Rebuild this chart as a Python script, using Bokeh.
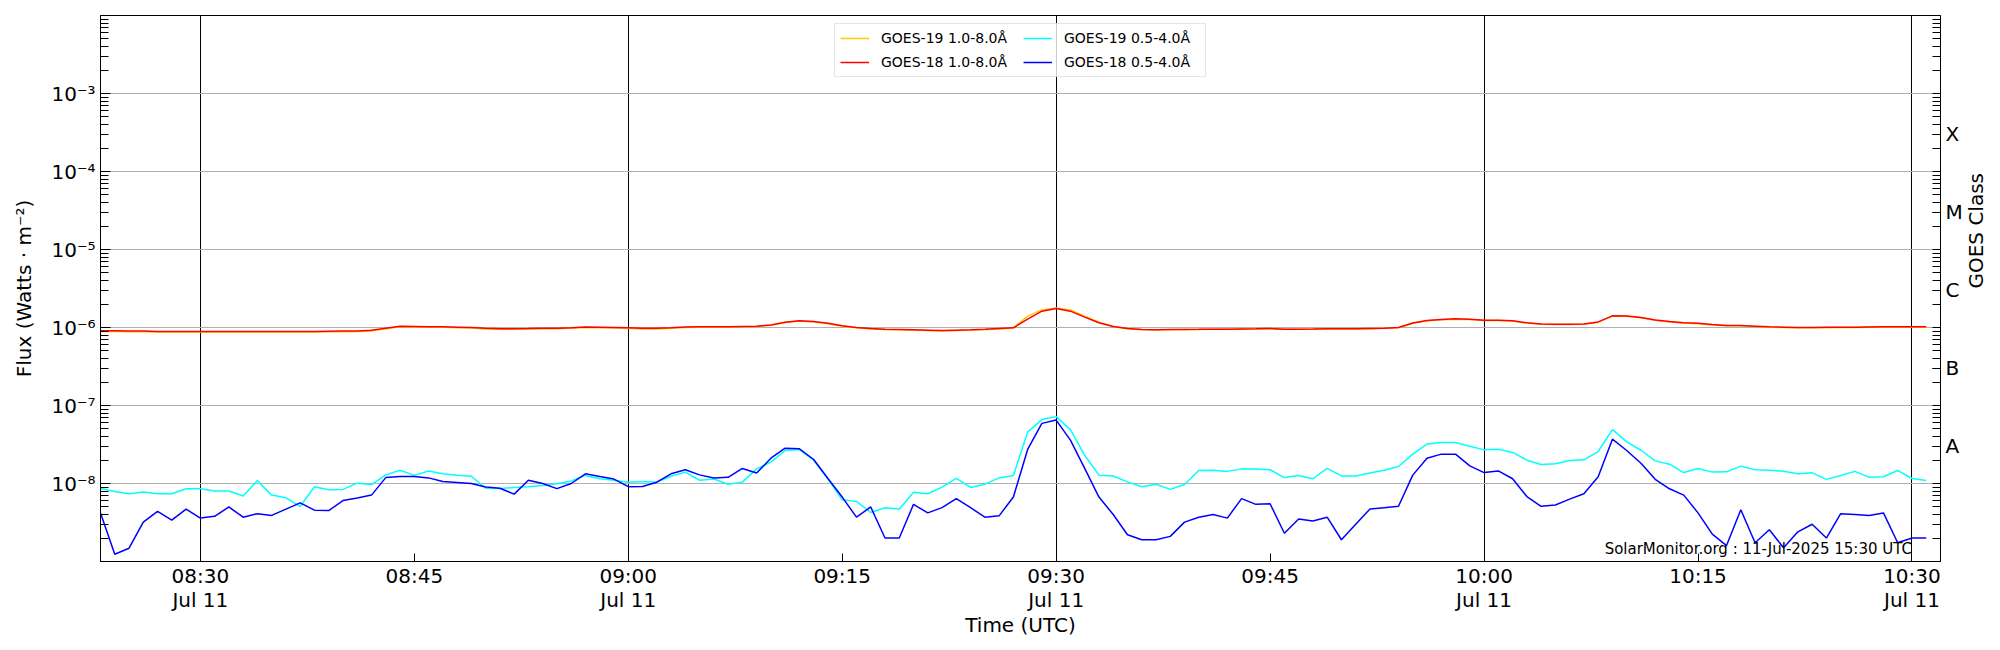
import math
from datetime import datetime, timedelta

from bokeh.plotting import figure
from bokeh.models import Range1d, LogScale, LogAxis, FixedTicker, CustomJSTickFormatter, Label
from bokeh.embed import file_html
from bokeh.resources import INLINE

# ---------------- data (1-minute samples, 11 Jul 2025, 08:23 .. 10:31 UTC) ----------------
start_time = datetime(2025, 7, 11, 8, 23)
n_samples = 129
times = [start_time + timedelta(minutes=i) for i in range(n_samples)]

goes19_long = [
    8.9e-7, 8.9e-7, 8.8e-7, 8.8e-7, 8.75e-7, 8.75e-7, 8.75e-7, 8.75e-7, 8.75e-7, 8.75e-7,
    8.75e-7, 8.75e-7, 8.75e-7, 8.75e-7, 8.75e-7, 8.75e-7, 8.8e-7, 8.85e-7, 8.9e-7, 9.05e-7,
    9.65e-7, 1.02e-6, 1.015e-6, 1.01e-6, 1.005e-6, 9.95e-7, 9.85e-7, 9.6e-7, 9.5e-7, 9.5e-7,
    9.55e-7, 9.65e-7, 9.65e-7, 9.75e-7, 1.0e-6, 9.95e-7, 9.85e-7, 9.75e-7, 9.6e-7, 9.6e-7,
    9.75e-7, 1.0e-6, 1.005e-6, 1.01e-6, 1.01e-6, 1.02e-6, 1.03e-6, 1.07e-6, 1.16e-6, 1.21e-6,
    1.18e-6, 1.12e-6, 1.04e-6, 9.9e-7, 9.6e-7, 9.4e-7, 9.35e-7, 9.25e-7, 9.15e-7, 9.05e-7,
    9.15e-7, 9.25e-7, 9.4e-7, 9.6e-7, 9.9e-7, 1.4e-6, 1.68e-6, 1.78e-6, 1.68e-6, 1.4e-6,
    1.17e-6, 1.03e-6, 9.65e-7, 9.4e-7, 9.3e-7, 9.35e-7, 9.4e-7, 9.42e-7, 9.47e-7, 9.47e-7,
    9.51e-7, 9.56e-7, 9.65e-7, 9.47e-7, 9.47e-7, 9.51e-7, 9.6e-7, 9.56e-7, 9.56e-7, 9.65e-7,
    9.75e-7, 9.95e-7, 1.13e-6, 1.22e-6, 1.26e-6, 1.28e-6, 1.27e-6, 1.23e-6, 1.23e-6, 1.21e-6,
    1.14e-6, 1.1e-6, 1.09e-6, 1.09e-6, 1.1e-6, 1.17e-6, 1.4e-6, 1.39e-6, 1.33e-6, 1.24e-6,
    1.18e-6, 1.14e-6, 1.12e-6, 1.08e-6, 1.05e-6, 1.05e-6, 1.03e-6, 1.01e-6, 1.0e-6, 9.9e-7,
    9.9e-7, 9.95e-7, 1.0e-6, 1.0e-6, 1.005e-6, 1.01e-6, 1.01e-6, 1.01e-6, 1.01e-6,
]

goes18_long = [
    9.1e-7, 9.1e-7, 9.0e-7, 9.0e-7, 8.9e-7, 8.9e-7, 8.9e-7, 8.9e-7, 8.9e-7, 8.9e-7,
    8.9e-7, 8.9e-7, 8.9e-7, 8.9e-7, 8.9e-7, 8.9e-7, 8.95e-7, 9.0e-7, 9.05e-7, 9.2e-7,
    9.8e-7, 1.035e-6, 1.03e-6, 1.025e-6, 1.02e-6, 1.01e-6, 1.0e-6, 9.75e-7, 9.65e-7, 9.65e-7,
    9.7e-7, 9.8e-7, 9.8e-7, 9.9e-7, 1.015e-6, 1.01e-6, 1.0e-6, 9.9e-7, 9.75e-7, 9.75e-7,
    9.9e-7, 1.015e-6, 1.02e-6, 1.02e-6, 1.02e-6, 1.03e-6, 1.04e-6, 1.08e-6, 1.17e-6, 1.22e-6,
    1.19e-6, 1.13e-6, 1.05e-6, 1.0e-6, 9.7e-7, 9.5e-7, 9.45e-7, 9.35e-7, 9.25e-7, 9.15e-7,
    9.25e-7, 9.35e-7, 9.5e-7, 9.7e-7, 9.9e-7, 1.28e-6, 1.62e-6, 1.75e-6, 1.62e-6, 1.36e-6,
    1.15e-6, 1.03e-6, 9.7e-7, 9.45e-7, 9.35e-7, 9.4e-7, 9.45e-7, 9.47e-7, 9.52e-7, 9.52e-7,
    9.56e-7, 9.61e-7, 9.7e-7, 9.52e-7, 9.52e-7, 9.56e-7, 9.65e-7, 9.61e-7, 9.61e-7, 9.7e-7,
    9.8e-7, 1.0e-6, 1.14e-6, 1.23e-6, 1.27e-6, 1.29e-6, 1.28e-6, 1.24e-6, 1.24e-6, 1.22e-6,
    1.15e-6, 1.11e-6, 1.1e-6, 1.1e-6, 1.11e-6, 1.18e-6, 1.41e-6, 1.4e-6, 1.34e-6, 1.25e-6,
    1.19e-6, 1.15e-6, 1.13e-6, 1.09e-6, 1.06e-6, 1.06e-6, 1.04e-6, 1.02e-6, 1.01e-6, 1.0e-6,
    1.0e-6, 1.005e-6, 1.01e-6, 1.01e-6, 1.015e-6, 1.02e-6, 1.02e-6, 1.02e-6, 1.02e-6,
]

goes19_short = [
    8.6e-9, 7.9e-9, 7.4e-9, 7.8e-9, 7.4e-9, 7.4e-9, 8.55e-9, 8.55e-9, 8.0e-9, 8.0e-9,
    6.9e-9, 1.09e-8, 7.1e-9, 6.55e-9, 5.1e-9, 9.1e-9, 8.3e-9, 8.4e-9, 1.01e-8, 9.7e-9,
    1.29e-8, 1.48e-8, 1.27e-8, 1.45e-8, 1.33e-8, 1.28e-8, 1.24e-8, 8.7e-9, 8.6e-9, 8.9e-9,
    9.1e-9, 9.4e-9, 9.9e-9, 1.08e-8, 1.27e-8, 1.15e-8, 1.1e-8, 1.04e-8, 1.06e-8, 1.04e-8,
    1.24e-8, 1.4e-8, 1.1e-8, 1.14e-8, 9.8e-9, 1.04e-8, 1.54e-8, 1.88e-8, 2.65e-8, 2.73e-8,
    1.99e-8, 1.14e-8, 6.2e-9, 5.9e-9, 4.25e-9, 4.9e-9, 4.7e-9, 7.7e-9, 7.4e-9, 9.0e-9,
    1.16e-8, 8.9e-9, 9.8e-9, 1.18e-8, 1.27e-8, 4.55e-8, 6.6e-8, 7.2e-8, 4.9e-8, 2.3e-8,
    1.28e-8, 1.25e-8, 1.05e-8, 9.1e-9, 9.8e-9, 8.4e-9, 9.7e-9, 1.47e-8, 1.48e-8, 1.43e-8,
    1.54e-8, 1.53e-8, 1.5e-8, 1.19e-8, 1.27e-8, 1.15e-8, 1.56e-8, 1.25e-8, 1.25e-8, 1.36e-8,
    1.48e-8, 1.65e-8, 2.38e-8, 3.2e-8, 3.35e-8, 3.35e-8, 3.0e-8, 2.7e-8, 2.75e-8, 2.5e-8,
    1.99e-8, 1.75e-8, 1.79e-8, 1.97e-8, 2.01e-8, 2.57e-8, 4.9e-8, 3.42e-8, 2.67e-8, 1.95e-8,
    1.77e-8, 1.38e-8, 1.56e-8, 1.4e-8, 1.41e-8, 1.67e-8, 1.5e-8, 1.48e-8, 1.44e-8, 1.33e-8,
    1.37e-8, 1.13e-8, 1.27e-8, 1.43e-8, 1.2e-8, 1.22e-8, 1.47e-8, 1.16e-8, 1.09e-8,
]

goes18_short = [
    4.2e-9, 1.24e-9, 1.48e-9, 3.2e-9, 4.4e-9, 3.4e-9, 4.7e-9, 3.6e-9, 3.8e-9, 5.0e-9,
    3.7e-9, 4.1e-9, 3.9e-9, 4.7e-9, 5.65e-9, 4.55e-9, 4.5e-9, 6.05e-9, 6.5e-9, 7.1e-9,
    1.19e-8, 1.23e-8, 1.23e-8, 1.18e-8, 1.06e-8, 1.03e-8, 1.0e-8, 9.0e-9, 8.7e-9, 7.3e-9,
    1.1e-8, 1.0e-8, 8.6e-9, 1.0e-8, 1.33e-8, 1.23e-8, 1.14e-8, 9.1e-9, 9.15e-9, 1.04e-8,
    1.33e-8, 1.5e-8, 1.29e-8, 1.18e-8, 1.2e-8, 1.56e-8, 1.36e-8, 2.11e-8, 2.84e-8, 2.78e-8,
    2.03e-8, 1.16e-8, 6.7e-9, 3.7e-9, 5.0e-9, 2.0e-9, 2.0e-9, 5.4e-9, 4.2e-9, 4.9e-9,
    6.4e-9, 4.9e-9, 3.7e-9, 3.85e-9, 6.7e-9, 2.73e-8, 5.9e-8, 6.5e-8, 3.6e-8, 1.56e-8,
    6.7e-9, 4.0e-9, 2.2e-9, 1.9e-9, 1.9e-9, 2.1e-9, 3.2e-9, 3.7e-9, 4.0e-9, 3.6e-9,
    6.4e-9, 5.4e-9, 5.5e-9, 2.3e-9, 3.5e-9, 3.3e-9, 3.7e-9, 1.9e-9, 3.0e-9, 4.7e-9,
    4.9e-9, 5.1e-9, 1.28e-8, 2.11e-8, 2.38e-8, 2.38e-8, 1.68e-8, 1.38e-8, 1.45e-8, 1.15e-8,
    6.8e-9, 5.1e-9, 5.3e-9, 6.3e-9, 7.4e-9, 1.22e-8, 3.7e-8, 2.65e-8, 1.82e-8, 1.13e-8,
    8.55e-9, 7.1e-9, 4.2e-9, 2.24e-9, 1.6e-9, 4.6e-9, 1.74e-9, 2.55e-9, 1.5e-9, 2.4e-9,
    3.0e-9, 2.0e-9, 4.1e-9, 4.0e-9, 3.9e-9, 4.2e-9, 1.74e-9, 2.0e-9, 2.0e-9,
]

series_labels = ["GOES-19 1.0-8.0Å", "GOES-18 1.0-8.0Å", "GOES-19 0.5-4.0Å", "GOES-18 0.5-4.0Å"]
series_colors = ["#ffc800", "#ff0000", "#00ffff", "#0000ff"]

decade_ticks = [1e-8, 1e-7, 1e-6, 1e-5, 1e-4, 1e-3]
class_ticks = [3e-8, 3e-7, 3e-6, 3e-5, 3e-4]
class_names = ["A", "B", "C", "M", "X"]
minor_log_ticks = [k * 10.0 ** e for e in range(-9, -2) for k in range(1, 10)]

time_ticks = [datetime(2025, 7, 11, 8, 30) + timedelta(minutes=15 * i) for i in range(9)]
halfhour_ticks = [datetime(2025, 7, 11, 8, 30) + timedelta(minutes=30 * i) for i in range(5)]
x_start = datetime(2025, 7, 11, 8, 23)
x_end = datetime(2025, 7, 11, 10, 32)
stamp_text = "SolarMonitor.org : 11-Jul-2025 15:30 UTC"
right_title = "GOES Class"

EPOCH = datetime(1970, 1, 1)


def ms(d):
    return (d - EPOCH).total_seconds() * 1000.0


FONT = "DejaVu Sans"

# ---------------- figure ----------------
p = figure(
    x_axis_type="datetime", y_axis_type="log",
    x_range=Range1d(x_start, x_end), y_range=Range1d(1e-9, 1e-2),
    frame_width=1840, frame_height=546,
    min_border_left=100, min_border_right=60, min_border_top=15, min_border_bottom=89,
    output_backend="svg", toolbar_location=None,
    background_fill_color="white", border_fill_color="white",
)
p.outline_line_color = "black"
p.outline_line_width = 1

for vals, lab, col in zip([goes19_long, goes18_long, goes19_short, goes18_short], series_labels, series_colors):
    p.line(times[:len(vals)], vals, line_color=col, line_width=1.5, legend_label=lab)

# grids
p.xgrid.ticker = FixedTicker(ticks=[ms(t) for t in halfhour_ticks])
p.xgrid.grid_line_color = "black"
p.xgrid.grid_line_width = 1
p.ygrid.ticker = FixedTicker(ticks=decade_ticks)
p.ygrid.grid_line_color = "#b0b0b0"
p.ygrid.grid_line_width = 1

# x axis
xa = p.xaxis[0]
xa.ticker = FixedTicker(ticks=[ms(t) for t in time_ticks])
xa.formatter = CustomJSTickFormatter(code="""
const d = new Date(tick);
const hh = String(d.getUTCHours()).padStart(2, "0");
const mm = String(d.getUTCMinutes()).padStart(2, "0");
const months = ["Jan","Feb","Mar","Apr","May","Jun","Jul","Aug","Sep","Oct","Nov","Dec"];
if (d.getUTCMinutes() % 30 == 0) {
  return hh + ":" + mm + "\\n" + months[d.getUTCMonth()] + " " + d.getUTCDate();
}
return hh + ":" + mm;
""")
xa.axis_label = "Time (UTC)"
xa.major_tick_in = 8
xa.major_tick_out = 0
xa.minor_tick_line_color = None
xa.major_label_standoff = 2
xa.axis_label_standoff = -2
if "major_label_text_line_height" in xa.properties():
    xa.major_label_text_line_height = 1.0

# left y axis
ya = p.yaxis[0]
ya.ticker = FixedTicker(ticks=decade_ticks, minor_ticks=minor_log_ticks)
ya.formatter = CustomJSTickFormatter(code="""
const e = Math.round(Math.log10(tick));
const sup = {"-":"\\u207b","0":"\\u2070","1":"\\u00b9","2":"\\u00b2","3":"\\u00b3","4":"\\u2074",
             "5":"\\u2075","6":"\\u2076","7":"\\u2077","8":"\\u2078","9":"\\u2079"};
return "10" + String(e).split("").map(c => sup[c]).join("");
""")
ya.axis_label = "Flux (Watts · m⁻²)"
ya.major_tick_in = 10
ya.major_tick_out = 0
ya.minor_tick_in = 8
ya.minor_tick_out = 0
ya.major_label_standoff = 5
ya.axis_label_standoff = 12

# right GOES class axis
p.extra_y_ranges = {"goes": Range1d(1e-9, 1e-2)}
p.extra_y_scales = {"goes": LogScale()}
ra = LogAxis(
    y_range_name="goes",
    ticker=FixedTicker(ticks=class_ticks, minor_ticks=minor_log_ticks),
    formatter=CustomJSTickFormatter(args=dict(vals=class_ticks, names=class_names), code="""
let best = 0, bd = 1e9;
for (let i = 0; i < vals.length; i++) {
  const d = Math.abs(Math.log10(tick) - Math.log10(vals[i]));
  if (d < bd) { bd = d; best = i; }
}
return names[best];
"""),
)
ra.major_tick_in = 8
ra.major_tick_out = 0
ra.minor_tick_in = 8
ra.minor_tick_out = 0
ra.major_label_standoff = 5
ra.major_label_text_align = "left"
ra.major_label_text_baseline = "middle"
p.add_layout(ra, "right")

# right-hand title, reading bottom-to-top: a label-only axis
rt = LogAxis(
    y_range_name="goes",
    ticker=FixedTicker(ticks=[3.16e-6], minor_ticks=[]),
    formatter=CustomJSTickFormatter(args=dict(t=right_title), code="return t;"),
    major_label_orientation=math.pi / 2,
)
rt.axis_line_color = None
rt.major_tick_line_color = None
rt.minor_tick_line_color = None
rt.major_tick_in = 0
rt.major_tick_out = 0
rt.major_label_standoff = 11
p.add_layout(rt, "right")

for ax in [xa, ya, ra, rt]:
    ax.major_label_text_font = FONT
    ax.major_label_text_font_size = "20px"
    ax.major_label_text_color = "black"
    ax.axis_label_text_font = FONT
    ax.axis_label_text_font_size = "20px"
    ax.axis_label_text_font_style = "normal"
    ax.axis_label_text_color = "black"
for ax in [xa, ya, ra]:
    ax.axis_line_color = "black"
    ax.major_tick_line_color = "black"

# legend
lg = p.legend[0]
lg.location = "top_center"
lg.ncols = 2
lg.label_text_font = FONT
lg.label_text_font_size = "14px"
lg.label_text_color = "black"
lg.glyph_width = 29
lg.glyph_height = 18
lg.label_height = 18
lg.label_width = 136
lg.label_standoff = 12
lg.spacing = 6
lg.padding = 5
lg.margin = 8
lg.border_line_color = "#cccccc"
lg.border_line_width = 1
lg.background_fill_alpha = 0.8

# stamp
p.add_layout(Label(
    x=ms(halfhour_ticks[-1]), y=1.43e-9, text=stamp_text,
    text_align="right", text_baseline="alphabetic",
    text_font=FONT, text_font_size="15px", text_color="black",
))

open("out.html", "w").write(file_html(p, INLINE))
